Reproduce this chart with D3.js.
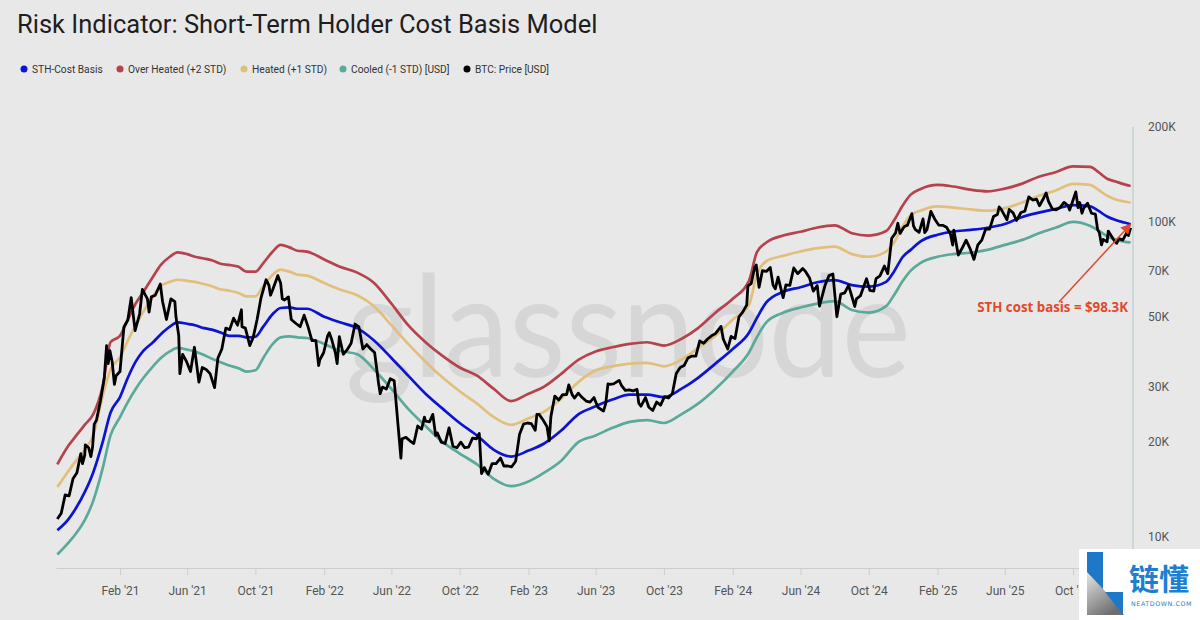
<!DOCTYPE html>
<html><head><meta charset="utf-8">
<script src="https://cdn.jsdelivr.net/npm/d3@7"></script>
<style>
html,body{margin:0;padding:0;background:#e8e8e8;}
svg{display:block;}
</style></head><body>
<svg id="chart" width="1200" height="620"></svg>
<script>
// ---------------- DATA (values in thousand USD) ----------------
const bandDates = ["2020-10-12","2020-11-01","2020-11-15","2020-12-01","2020-12-15","2021-01-01","2021-01-15","2021-02-01","2021-02-15","2021-03-01","2021-03-15","2021-04-01","2021-04-15","2021-05-01","2021-05-15","2021-06-01","2021-06-15","2021-07-01","2021-07-15","2021-08-01","2021-08-15","2021-09-01","2021-09-15","2021-10-01","2021-10-15","2021-11-01","2021-11-15","2021-12-01","2021-12-15","2022-01-01",
"2022-02-01","2022-03-01","2022-04-01","2022-05-01","2022-06-01","2022-07-01","2022-08-01","2022-09-01","2022-10-01","2022-11-01","2022-12-01",
"2023-01-01","2023-02-01","2023-03-01","2023-04-01","2023-05-01","2023-06-01","2023-07-01","2023-08-01","2023-09-01","2023-10-01","2023-11-01","2023-12-01",
"2024-01-01","2024-02-01","2024-03-01","2024-03-15","2024-04-01","2024-05-01","2024-06-01","2024-07-01","2024-08-01","2024-09-01","2024-10-01","2024-11-01","2024-11-15","2024-12-01","2024-12-15",
"2025-01-01","2025-02-01","2025-03-01","2025-04-01","2025-05-01","2025-06-01","2025-07-01","2025-08-01","2025-09-01","2025-10-01","2025-11-01","2025-11-15","2025-12-01","2025-12-15","2026-01-01","2026-01-12"];

const sthCostBasis = [10.5,11.4,12.4,14.0,16.0,20.0,24.8,27.8,32.0,36.0,39.0,41.5,44.0,46.5,48.0,47.5,47.0,46.0,45.5,44.5,43.5,43.5,43.0,43.2,46.5,51.0,53.3,53.5,53.0,53.0,
50.0,48.0,46.0,42.0,37.0,32.5,28.5,25.5,23.0,21.0,18.9,
18.0,18.8,19.8,21.8,24.5,26.0,27.3,28.3,28.3,27.8,29.5,32.0,
35.5,39.5,44.5,49.5,55.5,60.0,62.0,64.3,65.3,63.0,62.3,64.5,69.5,77.5,81.5,
86.6,91.0,93.2,94.3,95.8,98.5,103.5,107.0,110.0,113.0,112.0,108.5,104.0,101.5,99.5,98.3];

const overHeated = [17.0,19.5,21.0,22.8,24.5,30.0,41.5,43.5,49.0,55.0,60.0,67.0,73.0,77.5,80.0,79.0,77.5,76.5,75.5,73.5,73.0,72.0,69.5,69.5,74.0,80.5,84.5,83.0,81.0,80.5,
76.0,72.0,69.0,64.0,55.0,47.0,41.5,37.5,34.5,32.5,29.5,
27.0,28.5,30.0,33.0,36.5,38.8,40.0,41.0,41.5,40.5,42.5,46.0,
51.5,57.0,65.0,80.0,86.0,90.5,93.0,96.0,97.5,92.0,90.5,93.5,101.0,113.0,122.0,
127.0,131.0,129.5,126.5,125.0,127.5,132.0,139.0,144.0,150.0,149.5,144.0,137.0,134.5,131.5,130.0];

const heated = [14.4,16.2,17.5,19.0,21.0,28.0,34.0,37.2,42.0,47.0,52.0,58.0,62.5,64.5,65.5,65.0,64.5,63.5,62.5,61.0,60.5,59.5,58.0,58.0,62.5,68.0,70.5,69.5,68.0,67.5,
64.0,61.0,58.5,54.0,47.0,41.0,36.0,32.0,29.0,26.5,24.0,
22.7,23.8,25.0,27.5,31.0,33.8,34.8,35.5,35.7,34.8,36.5,39.8,
43.5,49.0,54.5,68.0,75.0,78.0,80.5,82.5,83.5,79.0,77.5,80.5,86.0,97.0,105.0,
108.5,112.0,111.0,109.5,108.5,110.5,115.0,121.0,126.0,132.0,131.0,126.5,121.0,118.0,116.0,115.0];

const cooled = [8.8,9.6,10.3,11.4,13.0,16.5,21.0,24.0,26.8,29.5,32.0,34.8,37.0,38.8,39.8,39.3,38.8,37.8,36.8,35.8,35.0,34.3,33.5,33.8,37.0,41.0,43.0,43.3,43.0,42.8,
41.0,39.0,38.0,34.0,29.5,25.5,22.5,20.0,18.4,17.0,15.3,
14.5,15.0,16.0,17.5,20.0,21.0,22.2,23.2,23.5,23.0,24.5,26.5,
29.5,33.5,38.5,43.0,48.0,51.5,53.5,55.0,56.0,52.5,51.5,54.0,58.5,65.0,70.0,
74.0,77.5,79.0,79.8,81.5,84.5,87.5,92.0,96.0,100.0,97.0,94.0,90.0,88.0,86.5,86.0];

const btcPrice = [
["2020-10-12",11.4],["2020-10-19",11.9],["2020-10-26",13.6],["2020-11-02",13.5],["2020-11-09",15.3],["2020-11-16",16.0],["2020-11-23",18.4],["2020-11-26",17.1],["2020-11-30",18.2],["2020-12-01",19.6],["2020-12-07",19.2],["2020-12-11",18.0],["2020-12-14",19.3],["2020-12-17",22.8],["2020-12-21",23.5],["2020-12-28",27.0],
["2021-01-04",32.0],["2021-01-08",40.5],["2021-01-11",35.5],["2021-01-14",39.0],["2021-01-18",36.0],["2021-01-22",30.5],["2021-01-25",32.5],["2021-02-01",33.5],["2021-02-08",46.4],["2021-02-15",48.8],["2021-02-21",57.5],["2021-02-28",45.2],["2021-03-08",51.0],["2021-03-13",61.0],["2021-03-22",57.0],["2021-03-25",51.7],["2021-03-29",57.8],["2021-04-05",58.5],["2021-04-14",63.5],["2021-04-18",56.0],["2021-04-25",49.0],["2021-05-03",57.0],["2021-05-10",55.8],["2021-05-12",50.0],["2021-05-17",43.5],["2021-05-19",33.0],["2021-05-24",38.0],["2021-05-31",36.0],["2021-06-07",33.5],["2021-06-14",40.0],["2021-06-22",31.0],["2021-06-28",34.5],["2021-07-05",34.0],["2021-07-12",33.0],["2021-07-20",29.8],["2021-07-26",37.0],["2021-08-02",39.5],["2021-08-09",46.0],["2021-08-16",45.5],["2021-08-23",49.5],["2021-08-30",47.0],["2021-09-06",52.6],["2021-09-07",46.5],["2021-09-13",46.0],["2021-09-21",40.5],["2021-09-27",43.0],["2021-10-04",49.0],["2021-10-11",57.4],["2021-10-20",65.5],["2021-10-25",63.0],["2021-10-28",58.5],["2021-11-01",61.0],["2021-11-10",67.5],["2021-11-15",64.0],["2021-11-18",57.0],["2021-11-22",56.5],["2021-11-29",57.8],["2021-12-04",49.0],["2021-12-13",47.5],["2021-12-20",46.5],["2021-12-27",50.6],
["2022-01-03",46.5],["2022-01-10",42.0],["2022-01-17",42.0],["2022-01-22",35.0],["2022-01-24",36.5],["2022-01-31",38.5],["2022-02-07",43.5],["2022-02-10",44.5],["2022-02-14",42.5],["2022-02-21",38.3],["2022-02-24",35.5],["2022-02-28",43.2],["2022-03-07",38.0],["2022-03-14",39.3],["2022-03-21",41.2],["2022-03-28",47.4],["2022-04-04",46.4],["2022-04-11",39.5],["2022-04-18",40.8],["2022-04-25",39.5],["2022-05-02",38.5],["2022-05-09",30.8],["2022-05-12",28.5],["2022-05-16",29.9],["2022-05-23",29.5],["2022-05-30",31.8],["2022-06-06",31.3],["2022-06-13",22.5],["2022-06-18",17.8],["2022-06-20",20.5],["2022-06-27",20.7],["2022-07-04",20.2],["2022-07-11",19.8],["2022-07-18",22.5],["2022-07-25",22.0],["2022-07-30",24.0],["2022-08-01",23.3],["2022-08-08",23.2],["2022-08-14",24.5],["2022-08-19",21.0],["2022-08-22",21.4],["2022-08-29",20.0],["2022-09-05",19.8],["2022-09-12",22.2],["2022-09-19",19.4],["2022-09-26",19.2],["2022-10-03",20.0],["2022-10-10",19.2],["2022-10-17",19.3],["2022-10-24",20.6],["2022-10-31",20.5],["2022-11-05",21.3],["2022-11-09",15.9],["2022-11-14",16.6],["2022-11-21",15.8],["2022-11-28",17.1],["2022-12-05",17.1],["2022-12-13",17.8],["2022-12-19",16.8],["2022-12-26",16.8],
["2023-01-02",16.7],["2023-01-09",17.4],["2023-01-16",21.2],["2023-01-23",22.8],["2023-01-30",23.0],["2023-02-06",22.9],["2023-02-13",21.8],["2023-02-16",24.5],["2023-02-20",24.5],["2023-02-27",23.5],["2023-03-06",22.4],["2023-03-10",20.2],["2023-03-13",24.1],["2023-03-20",28.0],["2023-03-27",27.2],["2023-04-03",28.3],["2023-04-10",28.3],["2023-04-14",30.4],["2023-04-20",28.3],["2023-04-24",27.6],["2023-05-01",28.6],["2023-05-08",27.7],["2023-05-15",27.0],["2023-05-22",26.8],["2023-05-29",27.7],["2023-06-05",25.8],["2023-06-15",25.1],["2023-06-19",26.5],["2023-06-23",30.6],["2023-06-26",30.5],["2023-07-03",30.6],["2023-07-13",31.4],["2023-07-17",30.3],["2023-07-24",29.2],["2023-07-31",29.3],["2023-08-07",29.1],["2023-08-14",29.4],["2023-08-17",26.6],["2023-08-21",26.0],["2023-08-29",27.7],["2023-09-04",25.8],["2023-09-11",25.2],["2023-09-18",26.8],["2023-09-25",26.2],["2023-10-02",27.9],["2023-10-09",27.6],["2023-10-16",28.5],["2023-10-23",33.0],["2023-10-30",34.5],["2023-11-06",35.0],["2023-11-13",37.0],["2023-11-20",37.5],["2023-11-27",37.5],["2023-12-04",41.9],["2023-12-11",41.2],["2023-12-18",42.5],["2023-12-25",43.5],
["2024-01-01",44.2],["2024-01-11",46.6],["2024-01-15",42.5],["2024-01-23",39.5],["2024-01-29",43.3],["2024-02-05",42.6],["2024-02-12",49.9],["2024-02-19",51.8],["2024-02-26",54.5],["2024-02-28",62.5],["2024-03-05",63.8],["2024-03-11",71.5],["2024-03-14",73.0],["2024-03-19",62.0],["2024-03-25",70.0],["2024-04-01",69.6],["2024-04-08",71.6],["2024-04-13",63.0],["2024-04-17",61.3],["2024-04-22",66.8],["2024-05-01",57.5],["2024-05-06",63.1],["2024-05-13",62.9],["2024-05-20",71.4],["2024-05-27",68.5],["2024-06-05",71.1],["2024-06-10",69.6],["2024-06-17",66.5],["2024-06-24",60.3],["2024-07-01",62.8],["2024-07-05",54.0],["2024-07-15",63.0],["2024-07-22",67.5],["2024-07-29",68.3],["2024-08-05",50.0],["2024-08-12",59.0],["2024-08-19",59.5],["2024-08-26",62.9],["2024-09-06",53.9],["2024-09-09",57.0],["2024-09-16",58.2],["2024-09-27",66.0],["2024-10-03",60.6],["2024-10-10",60.3],["2024-10-14",66.0],["2024-10-21",67.4],["2024-10-29",72.4],["2024-11-04",68.5],["2024-11-11",88.7],["2024-11-18",92.3],["2024-11-22",99.0],["2024-11-26",91.9],["2024-12-02",95.8],["2024-12-05",97.0],["2024-12-09",97.4],["2024-12-17",106.2],["2024-12-20",97.1],["2024-12-23",94.7],["2024-12-30",92.6],
["2025-01-06",102.2],["2025-01-09",92.5],["2025-01-13",94.5],["2025-01-20",108.0],["2025-01-27",102.0],["2025-02-03",97.7],["2025-02-10",97.5],["2025-02-17",96.1],["2025-02-24",91.5],["2025-02-28",84.4],["2025-03-02",94.2],["2025-03-10",78.5],["2025-03-17",82.6],["2025-03-24",87.5],["2025-03-31",82.3],["2025-04-07",76.0],["2025-04-14",84.5],["2025-04-21",87.5],["2025-04-28",94.9],["2025-05-05",94.8],["2025-05-12",104.0],["2025-05-19",105.5],["2025-05-22",111.5],["2025-05-26",109.4],["2025-06-05",101.5],["2025-06-09",109.5],["2025-06-16",106.8],["2025-06-22",101.0],["2025-06-30",107.1],["2025-07-07",108.2],["2025-07-14",120.0],["2025-07-21",117.3],["2025-07-28",118.0],["2025-08-02",112.5],["2025-08-08",117.5],["2025-08-14",123.5],["2025-08-18",116.3],["2025-08-25",110.0],["2025-09-01",109.2],["2025-09-08",111.1],["2025-09-15",115.3],["2025-09-22",112.7],["2025-09-25",109.0],["2025-09-29",114.3],["2025-10-06",124.5],["2025-10-10",111.0],["2025-10-13",115.2],["2025-10-17",106.5],["2025-10-20",110.5],["2025-10-27",114.6],["2025-11-03",106.5],["2025-11-10",105.8],["2025-11-14",94.5],["2025-11-17",92.5],["2025-11-21",84.5],["2025-11-24",88.0],["2025-12-01",86.5],["2025-12-03",93.5],["2025-12-08",90.5],["2025-12-15",86.5],["2025-12-18",85.5],["2025-12-22",88.5],["2025-12-29",87.5],
["2026-01-05",92.5],["2026-01-08",90.5],["2026-01-12",95.7]];

const xTickDates = ["2021-02-01","2021-06-01","2021-10-01","2022-02-01","2022-06-01","2022-10-01","2023-02-01","2023-06-01","2023-10-01","2024-02-01","2024-06-01","2024-10-01","2025-02-01","2025-06-01","2025-10-01"];
const yTicks = [10000,20000,30000,50000,70000,100000,200000];
const seriesNames = ["STH-Cost Basis","Over Heated (+2 STD)","Heated (+1 STD)","Cooled (-1 STD) [USD]","BTC: Price [USD]"];
const seriesColors = ["#0c14d2","#b5434d","#e2bf7c","#5aa99a","#000000"];
const titleText = "Risk Indicator: Short-Term Holder Cost Basis Model";
const annotationText = "STH cost basis = $98.3K";
const annotationValue = 98.3;
const annotationDate = "2026-01-12";

// ---------------- LAYOUT ----------------
const W = 1200, H = 620;
const plot = {left:56, right:1133, top:127, bottom:568};
const FONT = "Roboto, 'Noto Sans', 'DejaVu Sans', sans-serif";
const svg = d3.select("#chart");
svg.append("rect").attr("width",W).attr("height",H).attr("fill","#e8e8e8");

const parse = d3.utcParse("%Y-%m-%d");
const x = d3.scaleUtc().domain([parse("2021-02-01"), parse("2025-10-01")]).range([120,1073]);
x.domain([x.invert(plot.left), x.invert(plot.right)]).range([plot.left, plot.right]);
const y = d3.scaleLog().domain([10000,200000]).range([537,127]);

// watermark
svg.append("text").attr("x",628).attr("y",377).attr("text-anchor","middle")
  .attr("font-family","Lato, 'Open Sans', sans-serif").attr("font-size",142)
  .attr("fill","#d6d6d6").attr("textLength",565).attr("lengthAdjust","spacingAndGlyphs").text("glassnode");

// title
svg.append("text").attr("x",17).attr("y",33).attr("font-family",FONT).attr("font-size",25.5)
  .attr("fill","#1e1e1e").text(titleText);

// legend
const legendX = [24,120,244,343,467];
seriesNames.forEach((n,i)=>{
  const g = svg.append("g").attr("transform",`translate(${legendX[i]},69)`);
  g.append("circle").attr("r",3.5).attr("fill",seriesColors[i]);
  g.append("text").attr("x",8).attr("dy","0.35em").attr("font-family",FONT).attr("font-size",10.2)
    .attr("fill","#333").text(n);
});

// axes
const xAxis = d3.axisBottom(x).tickValues(xTickDates.map(parse)).tickFormat(d3.utcFormat("%b '%y"))
  .tickSize(7).tickSizeOuter(0).tickPadding(11);
svg.append("g").attr("transform",`translate(0,${plot.bottom})`).call(xAxis)
  .call(g=>{
    g.select(".domain").attr("stroke","#cdcdcd");
    g.selectAll(".tick line").attr("stroke","#cdcdcd");
    g.selectAll(".tick text").attr("fill","#555").attr("font-size",12).attr("font-family",FONT);
  });

const yAxis = d3.axisRight(y).tickValues(yTicks).tickFormat(d=>d/1000+"K").tickSize(0).tickPadding(15);
svg.append("g").attr("transform",`translate(${plot.right},0)`).call(yAxis)
  .call(g=>{
    g.select(".domain").remove();
    g.selectAll(".tick text").attr("fill","#555").attr("font-size",12).attr("font-family",FONT);
  });
svg.append("line").attr("x1",plot.right).attr("x2",plot.right).attr("y1",y(200000)).attr("y2",plot.bottom)
  .attr("stroke","#b8cfca").attr("stroke-width",1.2);

// lines
const bandDatesP = bandDates.map(parse);
const line = d3.line().x(d=>x(d[0])).y(d=>y(d[1]*1000)).curve(d3.curveMonotoneX);
const bands = [sthCostBasis, overHeated, heated, cooled];
[3,2,1,0].forEach(i=>{
  const data = bandDatesP.map((d,k)=>[d,bands[i][k]]);
  svg.append("path").datum(data).attr("d",line).attr("fill","none")
    .attr("stroke",seriesColors[i]).attr("stroke-width",2.7).attr("stroke-linejoin","round");
});
const priceLine = d3.line().x(d=>x(d[0])).y(d=>y(d[1]*1000));
svg.append("path").datum(btcPrice.map(d=>[parse(d[0]),d[1]])).attr("d",priceLine).attr("fill","none")
  .attr("stroke","#000").attr("stroke-width",2.8).attr("stroke-linejoin","round");

// annotation
const annColor = "#e2482c";
const defs = svg.append("defs");
defs.append("marker").attr("id","arr").attr("viewBox","0 0 10 10").attr("refX",9).attr("refY",5)
  .attr("markerWidth",7).attr("markerHeight",7).attr("orient","auto-start-reverse")
  .append("path").attr("d","M0,0 L10,5 L0,10 z").attr("fill",annColor);
const ax = x(parse(annotationDate)), ay = y(annotationValue*1000);
svg.append("line").attr("x1",1059).attr("y1",302).attr("x2",ax).attr("y2",ay)
  .attr("stroke",annColor).attr("stroke-width",1.5).attr("marker-end","url(#arr)");
svg.append("text").attr("x",1128).attr("y",312).attr("text-anchor","end")
  .attr("font-family","'Open Sans', 'DejaVu Sans', sans-serif").attr("font-weight","bold").attr("font-size",13.3)
  .attr("fill",annColor).text(annotationText);

// logo
const logo = svg.append("g");
logo.append("rect").attr("x",1079).attr("y",549).attr("width",121).attr("height",71).attr("fill","#ffffff");
const lg = defs.append("linearGradient").attr("id","lgrad").attr("x1","0").attr("y1","0").attr("x2","0.6").attr("y2","1");
lg.append("stop").attr("offset","0").attr("stop-color","#e6e6e6");
lg.append("stop").attr("offset","1").attr("stop-color","#6d6d6d");
logo.append("path").attr("d","M1087,552 L1103,552 L1103,592 L1087,578 Z").attr("fill","#1e78c8");
logo.append("path").attr("d","M1087,572 L1104,590 L1124,615 L1087,615 Z").attr("fill","url(#lgrad)");
logo.append("path").attr("d","M1105,592 L1123,592 L1123,615 Z").attr("fill","#1e78c8");
logo.append("text").attr("x",1129).attr("y",590).attr("font-family","'Noto Sans CJK SC', sans-serif")
  .attr("font-size",30).attr("font-weight","bold").attr("fill","#1e7fd0").text("链懂");
logo.append("text").attr("x",1131).attr("y",606).attr("font-family","'DejaVu Sans', sans-serif")
  .attr("font-size",6.3).attr("letter-spacing",0.6).attr("fill","#1e7fd0").text("NEATDOWN.COM");
</script>
</body></html>
